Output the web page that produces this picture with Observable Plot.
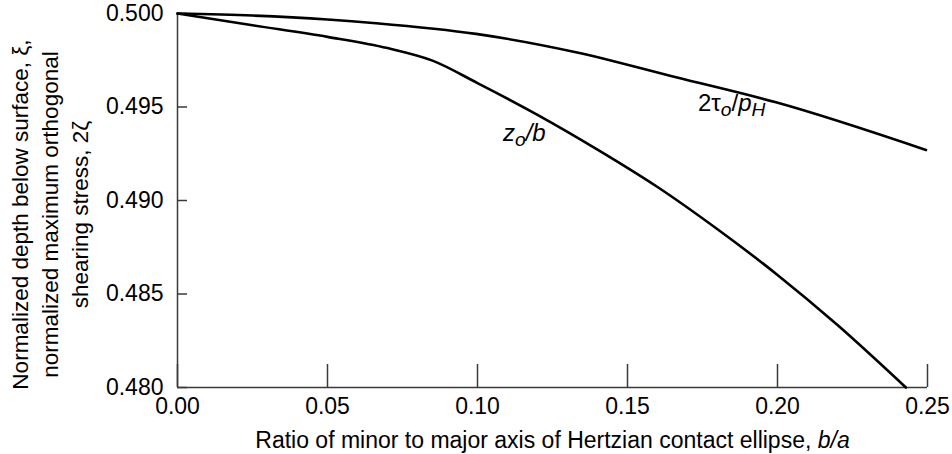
<!DOCTYPE html>
<html><head><meta charset="utf-8">
<script src="https://cdn.jsdelivr.net/npm/d3@7"></script>
<script src="https://cdn.jsdelivr.net/npm/@observablehq/plot@0.6"></script>
<style>
body{margin:0;background:#fff;}
svg{font-family:"Liberation Sans",Arial,Helvetica,sans-serif;}
</style>
</head><body><div id="chart"></div>
<script>
// Series: 2*tau_o/p_H
const tauRatio = [0, 0.025, 0.05, 0.0662, 0.0995, 0.1328, 0.1662, 0.1995, 0.2495];
const tauValues = [0.5, 0.49989, 0.49968, 0.49948, 0.49891, 0.49793, 0.49659, 0.49525, 0.49270];
// Series: z_o/b
const zRatio = [0, 0.025, 0.05, 0.07, 0.085, 0.1, 0.12, 0.14, 0.16, 0.18, 0.2, 0.22, 0.2428];
const zValues = [0.5, 0.49937, 0.49875, 0.49815, 0.49748, 0.49628, 0.49458, 0.49272, 0.49072, 0.48846, 0.48602, 0.48334, 0.480];
// Ticks
const xTicks = [0, 0.05, 0.10, 0.15, 0.20, 0.25];
const yTicks = [0.480, 0.485, 0.490, 0.495, 0.500];
// Curve labels
const curveLabels = ["2τo/pH", "zo/b"];
const curveLabelX = [0.1735, 0.1085];
const curveLabelY = [0.49481, 0.49320];
// Axis titles
const xTitle = "Ratio of minor to major axis of Hertzian contact ellipse, b/a";
const yTitle = "Normalized depth below surface, ξ,\nnormalized maximum orthogonal\nshearing stress, 2ζ";

const tauData = tauRatio.map((x, i) => ({x, y: tauValues[i]}));
const zData = zRatio.map((x, i) => ({x, y: zValues[i]}));
const labelData = curveLabels.map((t, i) => ({t, x: curveLabelX[i], y: curveLabelY[i]}));

const axisColor = "#3a3a3a";
const FS = 23;

const chart = Plot.plot({
  width: 952,
  height: 454,
  marginLeft: 177,
  marginRight: 25,
  marginTop: 13,
  marginBottom: 67,
  style: {fontSize: FS + "px", fontFamily: '"Liberation Sans", Arial, sans-serif', color: "#000", background: "#fff"},
  x: {domain: [xTicks[0], xTicks[xTicks.length - 1]]},
  y: {domain: [yTicks[0], yTicks[yTicks.length - 1]]},
  marks: [
    Plot.axisX({ticks: xTicks, tickSize: -23, tickFormat: () => "", label: null, stroke: axisColor, strokeWidth: 1.5}),
    Plot.axisX({ticks: xTicks, tickSize: 0, tickPadding: 10, tickFormat: d3.format(".2f"), label: null, fill: "#000"}),
    Plot.axisY({ticks: yTicks, tickSize: -10, tickFormat: () => "", label: null, stroke: axisColor, strokeWidth: 1.5}),
    Plot.axisY({ticks: yTicks, tickSize: 0, tickPadding: 14, tickFormat: d3.format(".3f"), label: null, fill: "#000"}),
    Plot.ruleY([yTicks[0]], {stroke: axisColor, strokeWidth: 1.5}),
    Plot.ruleX([xTicks[0]], {stroke: axisColor, strokeWidth: 1.5}),
    Plot.line(tauData, {x: "x", y: "y", stroke: "#000", strokeWidth: 2.6, curve: "monotone-x"}),
    Plot.line(zData, {x: "x", y: "y", stroke: "#000", strokeWidth: 2.6, curve: "monotone-x"}),
    Plot.text(labelData, {x: "x", y: "y", text: "t", textAnchor: "start", lineAnchor: "bottom", fill: "#000", fontSize: FS + 1}),
    Plot.text([xTitle], {frameAnchor: "bottom", textAnchor: "middle", lineAnchor: "bottom", dy: 60, fill: "#000"}),
    Plot.text([yTitle], {frameAnchor: "left", rotate: -90, textAnchor: "middle", lineAnchor: "middle", lineHeight: 1.32, dx: -129, dy: 14, fill: "#000", fontSize: FS - 0.5})
  ]
});

// Rich text formatting (italics and subscripts)
const NS = "http://www.w3.org/2000/svg";
function richify(el, parts) {
  while (el.firstChild) el.removeChild(el.firstChild);
  let shifted = false;
  for (const p of parts) {
    const ts = document.createElementNS(NS, "tspan");
    ts.textContent = p.t;
    if (p.i) ts.setAttribute("font-style", "italic");
    if (p.sub) {
      ts.setAttribute("font-size", "80%");
      if (!shifted) { ts.setAttribute("dy", "0.3em"); shifted = true; }
    } else if (shifted) {
      ts.setAttribute("dy", "-0.24em"); shifted = false;
    }
    el.appendChild(ts);
  }
}
chart.querySelectorAll("text").forEach(el => {
  const s = el.textContent;
  if (s === curveLabels[0]) {
    richify(el, [{t: "2τ"}, {t: "o", i: 1, sub: 1}, {t: "/"}, {t: "p", i: 1}, {t: "H", i: 1, sub: 1}]);
  } else if (s === curveLabels[1]) {
    richify(el, [{t: "z", i: 1}, {t: "o", i: 1, sub: 1}, {t: "/b", i: 1}]);
  } else if (s === xTitle) {
    richify(el, [{t: xTitle.slice(0, -3)}, {t: "b/a", i: 1}]);
  }
});
document.getElementById("chart").appendChild(chart);
</script>
</body></html>
